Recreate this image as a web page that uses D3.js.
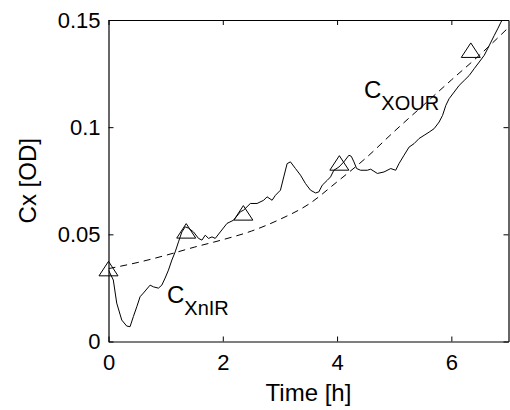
<!DOCTYPE html>
<html>
<head>
<meta charset="utf-8">
<script src="https://cdn.jsdelivr.net/npm/d3@7"></script>
<style>
  body { margin: 0; background: #fff; }
  text { font-family: "Liberation Sans", Arial, sans-serif; fill: #000; }
</style>
</head>
<body>
<svg id="viz"></svg>
<script>
var width = 510;
var height = 410;

// measured signal (solid line)
var solidTime = [0, 0.084, 0.144, 0.232, 0.319, 0.377, 0.435, 0.495, 0.553, 0.611, 0.728, 0.786, 0.874, 0.933,
  0.991, 1.049, 1.109, 1.167, 1.225, 1.284, 1.342, 1.400, 1.488, 1.575, 1.635, 1.693, 1.751, 1.811, 1.868,
  1.956, 2.074, 2.189, 2.307, 2.365, 2.482, 2.600, 2.716, 2.775, 2.863, 2.921, 3.009, 3.067, 3.126, 3.184,
  3.272, 3.360, 3.447, 3.535, 3.623, 3.681, 3.740, 3.828, 3.886, 3.944, 4.032, 4.119, 4.207, 4.249, 4.295,
  4.342, 4.412, 4.530, 4.588, 4.705, 4.821, 4.939, 5.026, 5.084, 5.172, 5.260, 5.347, 5.435, 5.523, 5.611,
  5.698, 5.786, 5.846, 5.904, 5.961, 6.049, 6.137, 6.225, 6.312, 6.400, 6.488, 6.575, 6.635, 6.693, 6.751,
  6.811, 6.868, 6.95];
var solidCx = [0.0333, 0.0287, 0.0179, 0.0100, 0.0072, 0.0069, 0.0116, 0.0162, 0.0209, 0.0226, 0.0263, 0.0255,
  0.0249, 0.0263, 0.0296, 0.0333, 0.0380, 0.0418, 0.0465, 0.0511, 0.0535, 0.0529, 0.0511, 0.0481, 0.0473,
  0.0496, 0.0481, 0.0488, 0.0481, 0.0511, 0.0551, 0.0566, 0.0605, 0.0613, 0.0644, 0.0644, 0.0659, 0.0675,
  0.0659, 0.0682, 0.0706, 0.0768, 0.0830, 0.0838, 0.0807, 0.0776, 0.0737, 0.0706, 0.0693, 0.0698, 0.0729,
  0.0752, 0.0768, 0.0799, 0.0814, 0.0838, 0.0869, 0.0864, 0.0838, 0.0807, 0.0799, 0.0799, 0.0804, 0.0784,
  0.0791, 0.0807, 0.0799, 0.0830, 0.0869, 0.0907, 0.0923, 0.0947, 0.0962, 0.0977, 0.0993, 0.1024, 0.1055,
  0.1102, 0.1133, 0.1164, 0.1195, 0.1218, 0.1241, 0.1273, 0.1304, 0.1335, 0.1366, 0.1397, 0.1428, 0.1459,
  0.1490, 0.1530];

// OUR based estimate (dashed line)
var dashTime = [0, 0.5, 1.0, 1.5, 2.0, 2.5, 3.0, 3.5, 4.0, 4.5, 5.0, 5.5, 6.0, 6.5, 7.0];
var dashCx = [0.0340, 0.0368, 0.0402, 0.0440, 0.0475, 0.0515, 0.0570, 0.0640, 0.0745, 0.0855, 0.0980,
  0.1100, 0.1220, 0.1338, 0.1465];

// offline samples (triangles)
var sampleTime = [0, 1.36, 2.36, 4.04, 6.34];
var sampleCx = [0.0339, 0.0515, 0.0599, 0.0832, 0.1358];

var xTicks = [0, 2, 4, 6];
var yTicks = [0, 0.05, 0.1, 0.15];

var svg = d3.select("#viz").attr("width", width).attr("height", height);

var x = d3.scaleLinear().domain([0, 7]).range([108.5, 508.5]);
var y = d3.scaleLinear().domain([0, 0.15]).range([341.5, 20]);

svg.append("clipPath").attr("id", "plotclip")
  .append("rect")
  .attr("x", x(0)).attr("y", y(0.15))
  .attr("width", x(7) - x(0)).attr("height", y(0) - y(0.15));

var plot = svg.append("g").attr("clip-path", "url(#plotclip)");

var solidLine = d3.line()
  .x(function(d, i) { return x(solidTime[i]); })
  .y(function(d) { return y(d); });

var dashLine = d3.line()
  .curve(d3.curveMonotoneX)
  .x(function(d, i) { return x(dashTime[i]); })
  .y(function(d) { return y(d); });

plot.append("path")
  .attr("d", dashLine(dashCx))
  .attr("fill", "none")
  .attr("stroke", "#000")
  .attr("stroke-width", 1)
  .attr("stroke-dasharray", "7,5");

plot.append("path")
  .attr("d", solidLine(solidCx))
  .attr("fill", "none")
  .attr("stroke", "#000")
  .attr("stroke-width", 1);

// triangle markers
svg.append("g").selectAll("path")
  .data(sampleCx)
  .enter()
  .append("path")
  .attr("transform", function(d, i) { return "translate(" + x(sampleTime[i]) + "," + y(d) + ")"; })
  .attr("d", "M0,-7.5L9.5,7L-9.5,7Z")
  .attr("fill", "none")
  .attr("stroke", "#000")
  .attr("stroke-width", 1);

// axes with inward ticks, boxed
var fmt = function(d) { return String(+d.toFixed(2)); };

var xAxis = svg.append("g")
  .attr("transform", "translate(0," + y(0) + ")")
  .call(d3.axisBottom(x).tickValues(xTicks).tickSize(-5).tickPadding(13).tickSizeOuter(0).tickFormat(fmt));

var xTop = svg.append("g")
  .attr("transform", "translate(0," + y(0.15) + ")")
  .call(d3.axisTop(x).tickValues(xTicks).tickSize(-5).tickSizeOuter(0).tickFormat(""));

var yAxis = svg.append("g")
  .attr("transform", "translate(" + x(0) + ",0)")
  .call(d3.axisLeft(y).tickValues(yTicks).tickSize(-5).tickPadding(8).tickSizeOuter(0).tickFormat(fmt));

var yRight = svg.append("g")
  .attr("transform", "translate(" + x(7) + ",0)")
  .call(d3.axisRight(y).tickValues(yTicks).tickSize(-5).tickSizeOuter(0).tickFormat(""));

svg.selectAll(".domain").attr("stroke", "#000").attr("stroke-width", 1.2);
svg.selectAll(".tick line").attr("stroke", "#000");
svg.selectAll(".tick text")
  .style("font-family", "'Liberation Sans', Arial, sans-serif")
  .style("font-size", "22px")
  .attr("fill", "#000");

// axis labels
svg.append("text")
  .attr("x", x(3.5))
  .attr("y", 401)
  .attr("text-anchor", "middle")
  .style("font-size", "24px")
  .text("Time [h]");

svg.append("text")
  .attr("transform", "translate(36," + y(0.075) + ") rotate(-90)")
  .attr("text-anchor", "middle")
  .style("font-size", "24px")
  .text("Cx [OD]");

// curve annotations
var lab1 = svg.append("text").attr("x", 167).attr("y", 303).style("font-size", "24px");
lab1.append("tspan").text("C");
lab1.append("tspan").attr("dy", 12).style("font-size", "20px").text("XnIR");

var lab2 = svg.append("text").attr("x", 364).attr("y", 98).style("font-size", "24px");
lab2.append("tspan").text("C");
lab2.append("tspan").attr("dy", 12).style("font-size", "20px").text("XOUR");
</script>
</body>
</html>
